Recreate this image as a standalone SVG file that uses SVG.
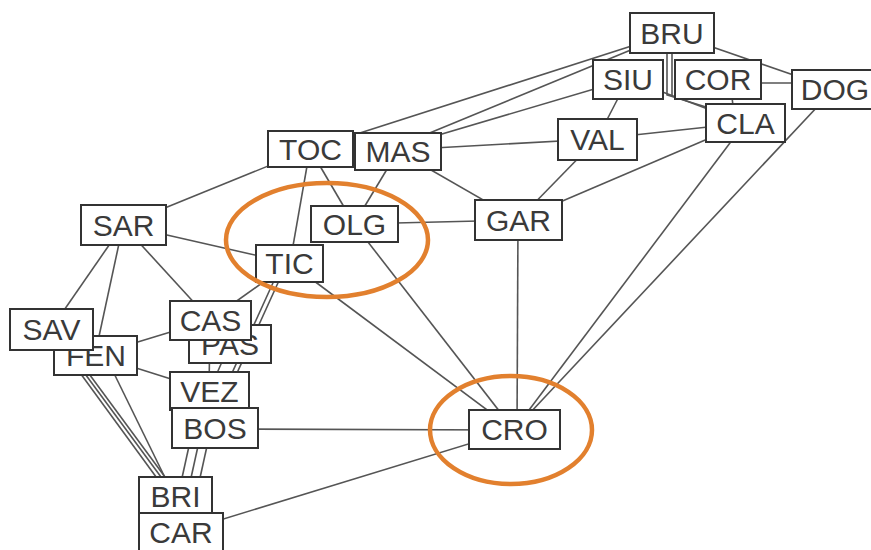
<svg xmlns="http://www.w3.org/2000/svg" width="871" height="550" viewBox="0 0 871 550">
<style>
.node rect{fill:#fff;stroke:#333;stroke-width:2}
.node text{font-family:"Liberation Sans",Arial,sans-serif;font-size:30px;fill:#3a3a3a;text-anchor:middle}
#edges line,#edges polyline{stroke:#555;stroke-width:1.6;fill:none}
.hl{fill:none;stroke:#e2802e;stroke-width:4.5}
</style>
<rect width="871" height="550" fill="#fff"/>
<g id="edges">
<line x1="310" y1="149" x2="123" y2="225"/>
<line x1="310" y1="149" x2="290" y2="263"/>
<line x1="310" y1="149" x2="354" y2="224"/>
<line x1="310" y1="149" x2="672" y2="33"/>
<line x1="398" y1="151" x2="354" y2="224"/>
<line x1="398" y1="151" x2="518" y2="220"/>
<line x1="398" y1="150" x2="597" y2="139"/>
<line x1="398" y1="146" x2="672" y2="33"/>
<line x1="398" y1="147" x2="628" y2="79"/>
<line x1="597" y1="139" x2="628" y2="79"/>
<line x1="597" y1="139" x2="745" y2="123"/>
<line x1="597" y1="139" x2="518" y2="220"/>
<line x1="518" y1="220" x2="745" y2="123"/>
<line x1="354" y1="224" x2="518" y2="220"/>
<line x1="518" y1="220" x2="517" y2="430"/>
<line x1="745" y1="123" x2="514" y2="430"/>
<line x1="834" y1="89" x2="514" y2="430"/>
<line x1="628" y1="79" x2="745" y2="123"/>
<line x1="672" y1="33" x2="834" y2="89"/>
<line x1="718" y1="83" x2="834" y2="83"/>
<line x1="730" y1="80" x2="735" y2="123"/>
<polyline points="667,40 667,95 706,107"/>
<line x1="672" y1="40" x2="672" y2="96"/>
<line x1="123" y1="225" x2="290" y2="263"/>
<line x1="123" y1="225" x2="210" y2="320"/>
<line x1="123" y1="225" x2="51" y2="329"/>
<line x1="123" y1="225" x2="95" y2="355"/>
<line x1="210" y1="320" x2="95" y2="355"/>
<line x1="95" y1="355" x2="209" y2="391"/>
<line x1="48" y1="329" x2="170" y2="496"/>
<line x1="52" y1="329" x2="175" y2="496"/>
<line x1="56" y1="329" x2="179" y2="496"/>
<line x1="105" y1="355" x2="174" y2="496"/>
<line x1="193" y1="428" x2="178" y2="496"/>
<line x1="202" y1="428" x2="187" y2="496"/>
<line x1="211" y1="428" x2="196" y2="496"/>
<line x1="290" y1="263" x2="210" y2="320"/>
<line x1="282" y1="263" x2="207" y2="428"/>
<line x1="287" y1="263" x2="212" y2="428"/>
<line x1="210" y1="320" x2="209" y2="391"/>
<line x1="230" y1="344" x2="209" y2="391"/>
<line x1="290" y1="263" x2="514" y2="430"/>
<line x1="354" y1="224" x2="514" y2="430"/>
<line x1="215" y1="429" x2="514" y2="430"/>
<line x1="181" y1="532" x2="514" y2="430"/>
</g>
<g id="TOC" class="node"><rect x="268" y="131" width="85" height="36"/><text x="310.5" y="159.5">TOC</text></g>
<g id="MAS" class="node"><rect x="355" y="133" width="86" height="37"/><text x="398" y="162">MAS</text></g>
<g id="SAR" class="node"><rect x="81" y="205" width="85" height="40"/><text x="123.5" y="235.5">SAR</text></g>
<g id="OLG" class="node"><rect x="311" y="206" width="87" height="36"/><text x="354.5" y="234.5">OLG</text></g>
<g id="TIC" class="node"><rect x="256" y="245" width="67" height="37"/><text x="289.5" y="274">TIC</text></g>
<g id="BRU" class="node"><rect x="630" y="13" width="84" height="40"/><text x="672" y="43.5">BRU</text></g>
<g id="SIU" class="node"><rect x="593" y="60" width="70" height="39"/><text x="628" y="90">SIU</text></g>
<g id="COR" class="node"><rect x="675" y="60" width="86" height="39"/><text x="718" y="90">COR</text></g>
<g id="DOG" class="node"><rect x="792" y="70" width="86" height="39"/><text x="835" y="100">DOG</text></g>
<g id="CLA" class="node"><rect x="706" y="104" width="79" height="38"/><text x="745.5" y="133.5">CLA</text></g>
<g id="VAL" class="node"><rect x="558" y="119" width="79" height="41"/><text x="597.5" y="150">VAL</text></g>
<g id="GAR" class="node"><rect x="475" y="200" width="87" height="40"/><text x="518.5" y="230.5">GAR</text></g>
<g id="FEN" class="node"><rect x="54" y="336" width="83" height="39"/><text x="96" y="366">FEN</text></g>
<g id="SAV" class="node"><rect x="10" y="309" width="83" height="41"/><text x="51.5" y="340">SAV</text></g>
<g id="PAS" class="node"><rect x="189" y="325" width="82" height="38"/><text x="230" y="354.5">PAS</text></g>
<g id="CAS" class="node"><rect x="170" y="301" width="81" height="39"/><text x="210.5" y="331">CAS</text></g>
<g id="VEZ" class="node"><rect x="170" y="372" width="79" height="38"/><text x="209.5" y="401.5">VEZ</text></g>
<g id="BOS" class="node"><rect x="172" y="408" width="86" height="40"/><text x="215" y="438.5">BOS</text></g>
<g id="BRI" class="node"><rect x="139" y="477" width="73" height="38"/><text x="175.5" y="506.5">BRI</text></g>
<g id="CAR" class="node"><rect x="139" y="513" width="84" height="38"/><text x="181" y="542.5">CAR</text></g>
<g id="CRO" class="node"><rect x="469" y="410" width="91" height="39"/><text x="514.5" y="440">CRO</text></g>
<g id="highlights">
<ellipse class="hl" cx="327" cy="240" rx="101" ry="57"/>
<ellipse class="hl" cx="511" cy="430" rx="81" ry="54"/>
</g>
</svg>
